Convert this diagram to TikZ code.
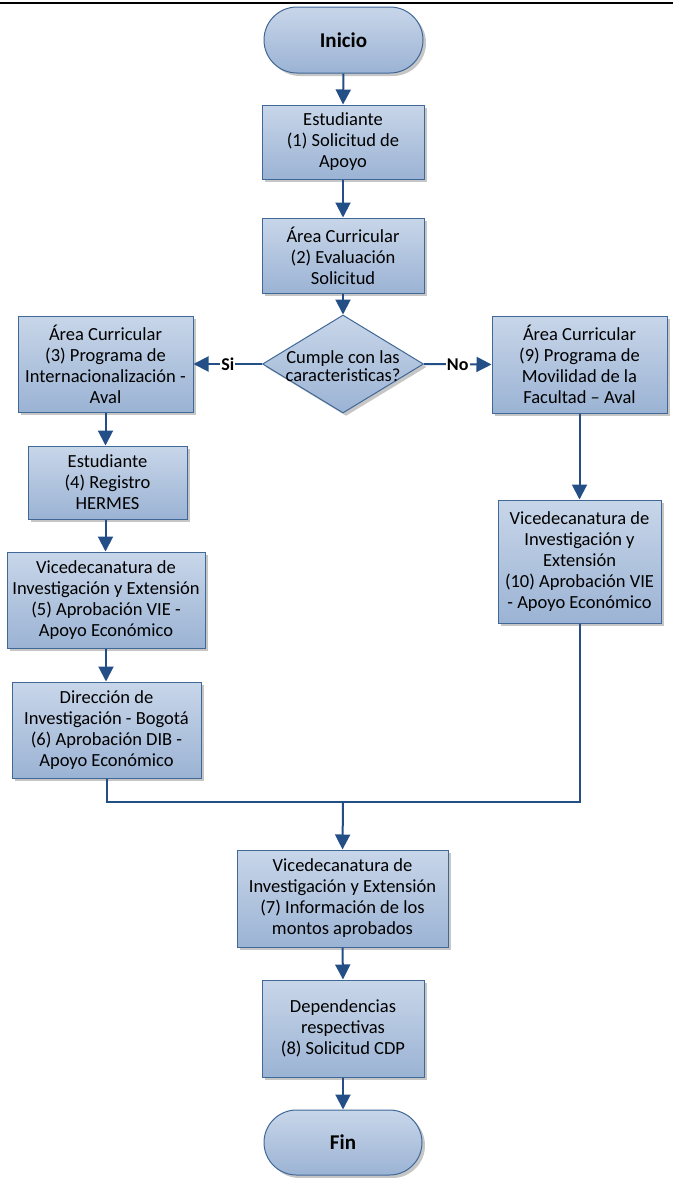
\documentclass[tikz,border=0pt]{standalone}
\usepackage{fontspec}
\setmainfont{Carlito}
\usetikzlibrary{arrows.meta,shapes.geometric,shapes.misc,shadows}
\definecolor{topc}{HTML}{C8D6E9}
\definecolor{botc}{HTML}{9BB3D4}
\definecolor{bordc}{HTML}{3F6897}
\definecolor{arrc}{HTML}{244F86}
\tikzset{
  shad/.style={drop shadow={shadow xshift=3pt,shadow yshift=-3pt,fill=black!50,opacity=.45}},
  proc/.style={rectangle,draw=bordc,line width=1pt,top color=topc,bottom color=botc,
    align=center,inner sep=1pt,font=\fontsize{18.5}{21}\selectfont,shad},
  term/.style={rounded rectangle,draw=bordc,line width=1pt,top color=topc,bottom color=botc,
    align=center,inner sep=2pt,font=\fontsize{21}{24}\selectfont\bfseries,shad},
  dec/.style={diamond,draw=bordc,line width=1pt,top color=topc,bottom color=botc,
    inner sep=0pt,shad},
  conn/.style={draw=arrc,line width=2pt,-{Triangle[length=15pt,width=15pt]}},
  link/.style={draw=arrc,line width=2pt},
  lab/.style={fill=white,inner sep=1pt,font=\fontsize{18}{20}\selectfont\bfseries}
}
\begin{document}
\begin{tikzpicture}[x=1pt,y=-1pt]
\useasboundingbox (0,0) rectangle (673,1178);
\draw[line width=2pt] (0,3) -- (673,3);

\node[term,minimum width=163pt,minimum height=66pt] (inicio) at (343.5,40) {Inicio};
\node[proc,minimum width=162pt,minimum height=74pt] (b1) at (343,142) {Estudiante\\(1) Solicitud de\\Apoyo};
\node[proc,minimum width=162pt,minimum height=75pt] (b2) at (343,255.5) {Área Curricular\\(2) Evaluación\\Solicitud};
\node[dec,minimum width=161pt,minimum height=98pt] (d) at (343,364) {};
\node[align=center,font=\fontsize{18.5}{18}\selectfont,inner sep=0pt] (dtext) at (343,366) {Cumple con las\\caracteristicas?};
\node[proc,minimum width=175pt,minimum height=96pt] (b3) at (105.5,364) {Área Curricular\\(3) Programa de\\Internacionalización -\\Aval};
\node[proc,minimum width=175pt,minimum height=97pt] (b9) at (579.5,364.5) {Área Curricular\\(9) Programa de\\Movilidad de la\\Facultad – Aval};
\node[proc,minimum width=159pt,minimum height=73pt] (b4) at (107.5,482.5) {Estudiante\\(4) Registro\\HERMES};
\node[proc,minimum width=198pt,minimum height=96pt] (b5) at (106,600) {Vicedecanatura de\\Investigación y Extensión\\(5) Aprobación VIE -\\Apoyo Económico};
\node[proc,minimum width=189pt,minimum height=96pt] (b6) at (106.5,730) {Dirección de\\Investigación - Bogotá\\(6) Aprobación DIB -\\Apoyo Económico};
\node[proc,minimum width=163pt,minimum height=123pt] (b10) at (579.5,561.5) {Vicedecanatura de\\Investigación y\\Extensión\\(10) Aprobación VIE\\- Apoyo Económico};
\node[proc,minimum width=211pt,minimum height=97pt] (b7) at (342.5,898.5) {Vicedecanatura de\\Investigación y Extensión\\(7) Información de los\\montos aprobados};
\node[proc,minimum width=162pt,minimum height=97pt] (b8) at (343,1028.5) {Dependencias\\respectivas\\(8) Solicitud CDP};
\node[term,minimum width=162pt,minimum height=65pt] (fin) at (343,1142.5) {Fin};

\coordinate (m) at (343,802);

\draw[conn] (inicio.south) -- (b1.north);
\draw[conn] (b1.south) -- (b2.north);
\draw[conn] (b2.south) -- (d.north);
\draw[conn] (d.west) -- node[lab] (si) {Si} (b3.east);
\draw[conn] (d.east) -- node[lab] (no) {No} (b9.west);
\draw[conn] (b3.south) -- (b3.south |- b4.north);
\draw[conn] (b4.south -| b3.south) -- (b3.south |- b5.north);
\draw[conn] (b5.south) -- (b5.south |- b6.north);
\draw[conn] (b9.south) -- (b9.south |- b10.north);
\draw[link] (b6.south) |- (m) -| (b10.south);
\draw[conn] (m) -- (b7.north);
\draw[conn] (b7.south) -- (b8.north);
\draw[conn] (b8.south) -- (fin.north);
\end{tikzpicture}
\end{document}
